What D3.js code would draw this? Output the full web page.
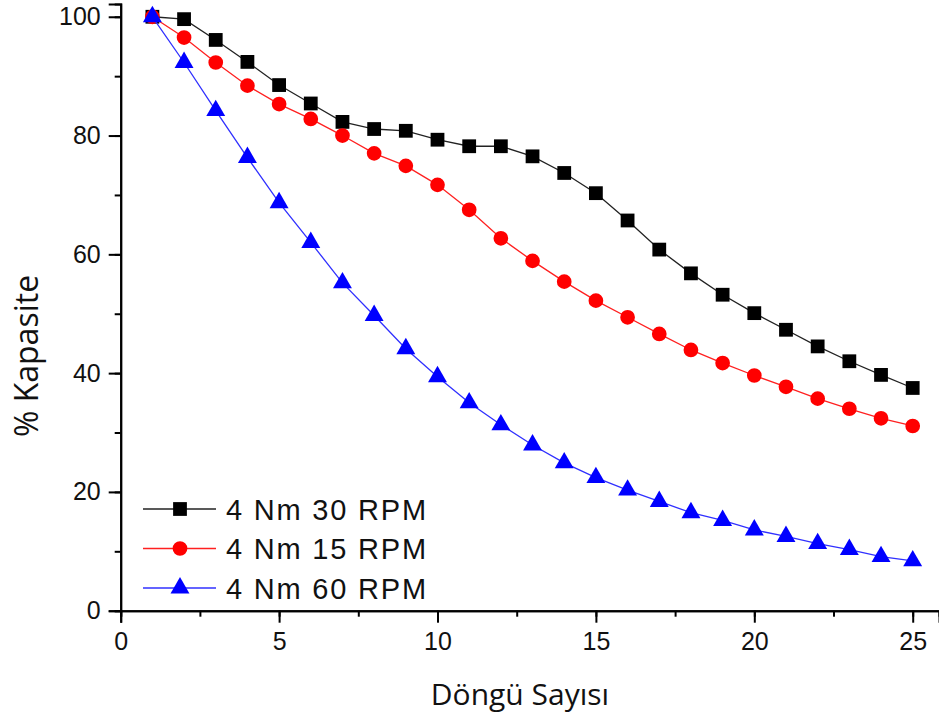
<!DOCTYPE html>
<html>
<head>
<meta charset="utf-8">
<script src="https://cdn.jsdelivr.net/npm/d3@7"></script>
<style>
  html, body { margin: 0; padding: 0; background: #fff; }
  svg { display: block; }
</style>
</head>
<body>
<script>
const cycles = d3.range(1, 26);
const seriesNames = ["4 Nm 30 RPM", "4 Nm 15 RPM", "4 Nm 60 RPM"];
const rpm30 = [100, 99.6, 96.1, 92.4, 88.5, 85.4, 82.3, 81.1, 80.8, 79.3, 78.2, 78.2, 76.5, 73.7, 70.3, 65.7, 60.8, 56.8, 53.2, 50.1, 47.3, 44.5, 42.0, 39.7, 37.5];
const rpm15 = [100, 96.5, 92.3, 88.4, 85.3, 82.8, 80.0, 77.0, 74.9, 71.7, 67.5, 62.7, 58.9, 55.4, 52.2, 49.4, 46.6, 43.9, 41.7, 39.6, 37.7, 35.7, 34.0, 32.4, 31.1];
const rpm60 = [100, 92.3, 84.2, 76.3, 68.7, 62.0, 55.2, 49.7, 44.1, 39.4, 35.0, 31.3, 27.9, 24.9, 22.4, 20.3, 18.4, 16.5, 15.2, 13.6, 12.5, 11.3, 10.3, 9.1, 8.4];
const xTicks = [0, 5, 10, 15, 20, 25];
const yTicks = [0, 20, 40, 60, 80, 100];
const xTitle = "Döngü Sayısı";
const yTitle = "% Kapasite";

const W = 939, H = 722;
const svg = d3.select("body").append("svg").attr("width", W).attr("height", H);

const x = d3.scaleLinear().domain([0, 25.83]).range([120.7, 939]);
const y = d3.scaleLinear().domain([0, 102.15]).range([610.7, 4]);

// Axes
const xAxis = svg.append("g").attr("transform", `translate(0,${y(0)})`);
xAxis.call(d3.axisBottom(x).tickValues(d3.range(0, 25.1, 2.5)).tickSize(6).tickFormat(""));
xAxis.append("g").call(d3.axisBottom(x).tickValues(xTicks).tickSize(12).tickPadding(10).tickFormat(d3.format("d")));
const yAxis = svg.append("g").attr("transform", `translate(${x(0)},0)`);
yAxis.call(d3.axisLeft(y).tickValues(d3.range(0, 101, 10)).tickSize(6).tickFormat(""));
yAxis.append("g").call(d3.axisLeft(y).tickValues(yTicks).tickSize(12).tickPadding(8).tickFormat(d3.format("d")));

svg.selectAll(".domain").attr("stroke", "#000").attr("stroke-width", 2);
svg.selectAll(".tick line").attr("stroke", "#000").attr("stroke-width", 2);
svg.selectAll(".tick text")
  .attr("font-family", "'Liberation Sans', Arial, sans-serif")
  .attr("font-size", 25).attr("fill", "#111");
xAxis.select("g").select(".domain").remove();
yAxis.select("g").select(".domain").remove();

// Titles
svg.append("text")
  .attr("x", 520).attr("y", 705)
  .attr("text-anchor", "middle")
  .attr("font-family", "'Open Sans', sans-serif")
  .attr("font-size", 30).attr("fill", "#111")
  .text(xTitle);
svg.append("text")
  .attr("transform", `translate(38,356) rotate(-90)`)
  .attr("text-anchor", "middle")
  .attr("font-family", "'Open Sans', sans-serif")
  .attr("font-size", 32).attr("fill", "#111")
  .text(yTitle);

const series = [
  { name: seriesNames[0], values: rpm30, color: "#000000", line: "#222", shape: d3.symbolSquare, size: 190 },
  { name: seriesNames[1], values: rpm15, color: "#ff0000", line: "#ff2020", shape: d3.symbolCircle, size: 170 },
  { name: seriesNames[2], values: rpm60, color: "#0000ff", line: "#3030ff", shape: d3.symbolTriangle, size: 155 }
];

const line = d3.line().x((d, i) => x(cycles[i])).y(d => y(d));

series.forEach(s => {
  const g = svg.append("g");
  g.append("path").datum(s.values)
    .attr("d", line).attr("fill", "none")
    .attr("stroke", s.line).attr("stroke-width", 1.3);
  g.selectAll("path.m").data(s.values).enter().append("path")
    .attr("class", "m")
    .attr("transform", (d, i) => `translate(${x(cycles[i])},${y(d)})`)
    .attr("d", d3.symbol().type(s.shape).size(s.size))
    .attr("fill", s.color);
});

// Legend
const legend = svg.append("g");
series.forEach((s, i) => {
  const cy = 509 + i * 39.5;
  legend.append("line")
    .attr("x1", 143).attr("x2", 216).attr("y1", cy).attr("y2", cy)
    .attr("stroke", s.line).attr("stroke-width", 1.3);
  legend.append("path")
    .attr("transform", `translate(180,${cy})`)
    .attr("d", d3.symbol().type(s.shape).size(s.size))
    .attr("fill", s.color);
  legend.append("text")
    .attr("x", 226).attr("y", cy + 10.5)
    .attr("font-family", "'Liberation Sans', Arial, sans-serif")
    .attr("font-size", 29).attr("letter-spacing", 1.8).attr("fill", "#111")
    .text(s.name);
});
</script>
</body>
</html>
